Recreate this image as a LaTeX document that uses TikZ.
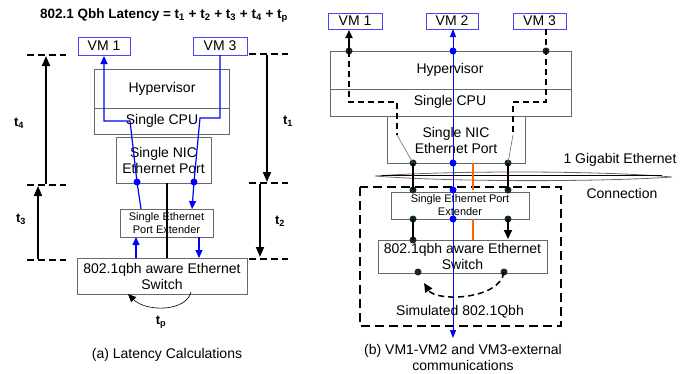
\documentclass[tikz,border=0pt]{standalone}
\usepackage{fontspec}
\setmainfont{Liberation Sans}
\usetikzlibrary{arrows.meta}
\definecolor{boxgray}{RGB}{105,105,105}
\definecolor{vmblue}{RGB}{70,70,255}
\definecolor{lnblue}{RGB}{0,0,255}
\definecolor{dotgreen}{RGB}{18,45,18}
\definecolor{orng}{RGB}{255,100,0}
\tikzset{
  txt/.style={font=\fontsize{14}{16}\selectfont, inner sep=0pt, align=center},
  smalltxt/.style={font=\fontsize{11}{13}\selectfont, inner sep=0pt, align=center},
  graybox/.style={draw=boxgray, line width=0.8pt},
  vmbox/.style={draw=vmblue, line width=1pt, font=\fontsize{14}{16}\selectfont, inner sep=0pt, minimum height=18pt},
  bluel/.style={draw=lnblue, line width=1.2pt},
  bluearr/.style={bluel, -{Triangle[length=8pt,width=7pt]}},
  marker/.style={draw=black, line width=1.6pt, dash pattern=on 7pt off 4pt},
  tarr/.style={draw=black, line width=1.8pt, -{Triangle[length=10pt,width=8pt]}},
  tlab/.style={font=\bfseries\fontsize{13}{15}\selectfont, inner sep=0pt},
  bdot/.style={circle, fill=lnblue, inner sep=0pt, minimum size=7pt},
  gdot/.style={circle, fill=dotgreen, inner sep=0pt, minimum size=7pt},
  thickb/.style={draw=black, line width=1.8pt},
  dashb/.style={draw=black, line width=1.5pt, dash pattern=on 6pt off 4pt},
}
\begin{document}
\begin{tikzpicture}[x=1pt,y=-1pt]
\useasboundingbox (0,0) rectangle (699,373);
% ================= LEFT (a) =================
\node[font=\bfseries\fontsize{13.5}{15}\selectfont, inner sep=0pt] (title) at (164,16)
  {802.1 Qbh Latency = t\textsubscript{1} + t\textsubscript{2} + t\textsubscript{3} + t\textsubscript{4} + t\textsubscript{p}};
\node[vmbox, minimum width=52pt] (avm1) at (104,46) {VM 1};
\node[vmbox, minimum width=54pt] (avm3) at (220,46) {VM 3};
\draw[graybox] (94,69) rectangle (229,134);
\draw[graybox] (94,108) -- (229,108);
\node[txt] (ahyp) at (162,89) {Hypervisor};
\node[txt] (acpu) at (162,121) {Single CPU};
\node[graybox, minimum width=95pt, minimum height=46pt, inner sep=0pt] (anic) at (163.5,160) {};
\node[txt] at (163.5,160) {Single NIC\\Ethernet Port};
\node[graybox, minimum width=93pt, minimum height=28pt, inner sep=0pt] (aext) at (166.5,223) {};
\node[smalltxt] at (166.5,223.5) {Single Ethernet\\Port Extender};
\node[graybox, minimum width=170pt, minimum height=36pt, inner sep=0pt] (asw) at (162,276) {};
\node[txt] at (162,276) {802.1qbh aware Ethernet\\Switch};
% black center line
\coordinate (ac1) at (167,183);
\coordinate (ac2) at (167,258);
\draw[thickb] (ac1) -- (ac2);
% blue VM3 path
\coordinate (b3a) at (220,55);
\coordinate (b3b) at (220,118);
\coordinate (b3c) at (200,118);
\node[bdot] (b3d) at (194,182) {};
\coordinate (b3e) at (192,209);
\draw[bluel] (b3a) -- (b3b) -- (b3c) -- (b3d.center);
\draw[bluearr] (b3d.center) -- (b3e);
\coordinate (b3f) at (199,237);
\coordinate (b3g) at (199,258);
\draw[bluearr] (b3f) -- (b3g);
% blue VM1 path
\coordinate (b1a) at (136,258);
\coordinate (b1b) at (136,237);
\draw[bluearr] (b1a) -- (b1b);
\coordinate (b1c) at (141,209);
\node[bdot] (b1d) at (137,182) {};
\coordinate (b1e) at (130,121);
\coordinate (b1f) at (104,121);
\coordinate (b1g) at (104,56);
\draw[bluel] (b1c) -- (b1d.center);
\draw[bluearr] (b1d.center) -- (b1e) -- (b1f) -- (b1g);
% markers
\coordinate (ml1a) at (27,55);  \coordinate (ml1b) at (66,55);
\coordinate (ml2a) at (27,185); \coordinate (ml2b) at (66,185);
\coordinate (ml3a) at (27,260); \coordinate (ml3b) at (66,260);
\coordinate (mr1a) at (249,54); \coordinate (mr1b) at (288,54);
\coordinate (mr2a) at (249,183); \coordinate (mr2b) at (288,183);
\coordinate (mr3a) at (249,259); \coordinate (mr3b) at (288,259);
\foreach \p in {ml1,ml2,ml3,mr1,mr2,mr3} \draw[marker] (\p a) -- (\p b);
\coordinate (t4a) at (46,184); \coordinate (t4b) at (46,56);
\draw[tarr] (t4a) -- (t4b);
\coordinate (t3a) at (38,259); \coordinate (t3b) at (38,186);
\draw[tarr] (t3a) -- (t3b);
\coordinate (t1a) at (267,55); \coordinate (t1b) at (267,182);
\draw[tarr] (t1a) -- (t1b);
\coordinate (t2a) at (260,184); \coordinate (t2b) at (260,257);
\draw[tarr] (t2a) -- (t2b);
\node[tlab] (lt4) at (19,123) {t\textsubscript{4}};
\node[tlab] (lt1) at (288,121) {t\textsubscript{1}};
\node[tlab] (lt3) at (21,219) {t\textsubscript{3}};
\node[tlab] (lt2) at (280,221) {t\textsubscript{2}};
% tp curve
\coordinate (tpa) at (191,292);
\coordinate (tpb) at (128,294);
\draw[line width=0.6pt, -{Triangle[length=8pt,width=7pt]}] (tpa) .. controls (186,312) and (146,312) .. (tpb);
\node[tlab] (ltp) at (161,322) {t\textsubscript{p}};
\node[txt] (capa) at (167,355) {(a) Latency Calculations};
% ================= RIGHT (b) =================
\node[vmbox, minimum width=54pt, minimum height=16pt] (bvm1) at (355,21) {VM 1};
\node[vmbox, minimum width=52pt, minimum height=16pt] (bvm2) at (452,21) {VM 2};
\node[vmbox, minimum width=53pt, minimum height=16pt] (bvm3) at (539.5,21) {VM 3};
\draw[graybox] (330,51) rectangle (571,116);
\draw[graybox] (330,89) -- (571,89);
\node[txt] (bhyp) at (450,70) {Hypervisor};
\node[txt] (bcpu) at (450,102) {Single CPU};
\node[graybox, minimum width=138pt, minimum height=47pt, inner sep=0pt] (bnic) at (456,139.5) {};
\node[txt] at (456,140) {Single NIC\\Ethernet Port};
% lens (1 Gigabit Ethernet connection)
\coordinate (lensl) at (375,176);
\coordinate (lensr) at (672,177);
\draw[draw=boxgray, line width=0.8pt] (lensl) .. controls (450,170.5) and (600,170.5) .. (lensr)
  .. controls (600,182) and (450,182) .. (lensl);
\coordinate (lbl) at (382,175);
\coordinate (lbr) at (662,175);
\draw[black, line width=1pt] (lbl) -- (lbr);
\node[txt] (gig) at (620,160) {1 Gigabit Ethernet};
\node[txt] (conn) at (622,193) {Connection};
% dashed simulated box
\draw[dashb, line width=1.6pt, dash pattern=on 9pt off 5pt] (360,187) rectangle (561,326);
\node[graybox, minimum width=138pt, minimum height=27pt, inner sep=0pt] (bext) at (460,205.5) {};
\node[smalltxt] at (460,205) {Single Ethernet Port\\Extender};
\node[graybox, minimum width=169pt, minimum height=33pt, inner sep=0pt] (bsw) at (462.5,256.5) {};
\node[txt] at (462.5,256.5) {802.1qbh aware Ethernet\\Switch};
\node[txt] (sim) at (460,312) {Simulated 802.1Qbh};
% VM1 dashed path
\node[gdot] (g1) at (349,51) {};
\coordinate (v1top) at (349,30);
\draw[thickb, -{Triangle[length=8pt,width=7pt]}] (g1.center) -- (v1top);
\coordinate (v1a) at (349,102);
\coordinate (v1b) at (397,102);
\coordinate (v1c) at (397,135);
\draw[dashb] (g1.center) -- (v1a) -- (v1b) -- (v1c);
\node[gdot] (g2) at (413,163) {};
\draw[boxgray, line width=0.6pt] (v1c) -- (g2.center);
\node[gdot] (g3) at (413,190) {};
\draw[thickb] (g2.center) -- (g3.center);
\node[gdot] (g4) at (413,219) {};
\node[gdot] (g5) at (413,240) {};
\draw[thickb] (g4.center) -- (g5.center);
% VM3 dashed path
\coordinate (v3top) at (546,29);
\node[gdot] (h1) at (546,51) {};
\coordinate (v3a) at (546,102);
\coordinate (v3b) at (513,102);
\coordinate (v3c) at (513,135);
\draw[dashb] (v3top) -- (h1.center) -- (v3a) -- (v3b) -- (v3c);
\node[gdot] (h2) at (508,163) {};
\draw[boxgray, line width=0.6pt] (v3c) -- (h2.center);
\node[gdot] (h3) at (508,190) {};
\draw[thickb] (h2.center) -- (h3.center);
\node[gdot] (h4) at (508,219) {};
\coordinate (h5) at (508,239);
\draw[thickb, -{Triangle[length=9pt,width=8pt]}] (h4.center) -- (h5);
% orange line
\coordinate (o1) at (473,163); \coordinate (o2) at (473,190);
\coordinate (o3) at (473,219); \coordinate (o4) at (473,240);
\draw[orng, line width=1.5pt] (o1) -- (o2);
\draw[orng, line width=1.5pt] (o3) -- (o4);
% blue line
\coordinate (bl1) at (453,338);
\coordinate (bl2) at (453,29);
\draw[draw=lnblue, line width=1pt, {Triangle[length=8pt,width=6pt]}-{Triangle[length=8pt,width=6pt]}] (bl1) -- (bl2);
\node[bdot] (bd1) at (453,51) {};
\node[bdot] (bd2) at (453,163) {};
\node[bdot] (bd3) at (453,190) {};
\node[bdot] (bd4) at (453,219) {};
% switch dashed curve
\node[gdot] (s1) at (418,272) {};
\node[gdot] (s2) at (504,272) {};
\coordinate (s3) at (424,283);
\draw[dashb, -{Triangle[length=9pt,width=8pt]}] (s2.center) .. controls (500,300) and (436,302) .. (s3);
\node[txt] (capb) at (463,357) {(b) VM1-VM2 and VM3-external\\communications};
\end{tikzpicture}
\end{document}
